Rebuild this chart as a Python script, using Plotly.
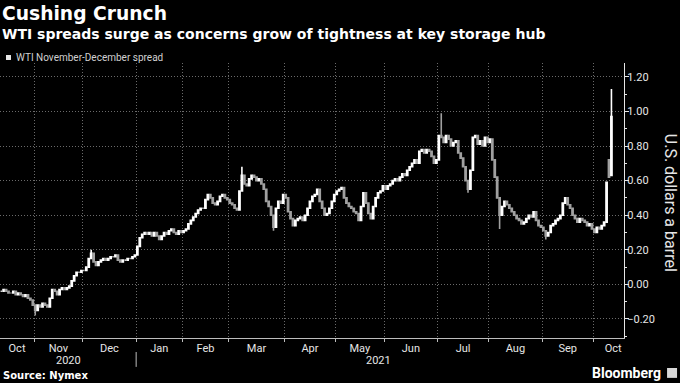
import pandas as pd
import plotly.graph_objects as go

# ---------------- data ----------------
HOLIDAYS = ["2020-11-26", "2020-12-25", "2021-01-01", "2021-01-18", "2021-02-15",
            "2021-04-02", "2021-05-31", "2021-07-05", "2021-09-06"]
FIRST_DAY = "2020-10-13"
LAST_DAY = "2021-10-12"

CLOSE_2020_10 = [-0.04, -0.03, -0.04, -0.05, -0.05, -0.04, -0.06, -0.05, -0.06, -0.07,
                 -0.06, -0.08, -0.09, -0.12]
CLOSE_2020_11 = [-0.15, -0.12, -0.13, -0.11, -0.12, -0.13, -0.08, -0.03, -0.04, -0.06,
                 -0.03, -0.02, -0.03, -0.02, -0.01, 0.02, 0.05, 0.07, 0.07, 0.08]
CLOSE_2020_12 = [0.08, 0.10, 0.15, 0.18, 0.13, 0.11, 0.13, 0.14, 0.15, 0.14,
                 0.15, 0.16, 0.16, 0.17, 0.14, 0.13, 0.14, 0.14, 0.15, 0.15, 0.16, 0.17]
CLOSE_2021_01 = [0.22, 0.27, 0.29, 0.30, 0.29, 0.30, 0.28, 0.30, 0.28, 0.26,
                 0.28, 0.30, 0.29, 0.31, 0.32, 0.30, 0.29, 0.31, 0.30]
CLOSE_2021_02 = [0.31, 0.32, 0.35, 0.37, 0.39, 0.41, 0.43, 0.44, 0.44, 0.49,
                 0.52, 0.50, 0.47, 0.46, 0.48, 0.51, 0.52, 0.50, 0.49]
CLOSE_2021_03 = [0.47, 0.46, 0.44, 0.43, 0.54, 0.63, 0.58, 0.57, 0.61, 0.63,
                 0.62, 0.60, 0.61, 0.58, 0.55, 0.48, 0.45, 0.40, 0.33, 0.44, 0.48, 0.47, 0.52]
CLOSE_2021_04 = [0.50, 0.42, 0.38, 0.34, 0.37, 0.38, 0.39, 0.37, 0.40, 0.44,
                 0.48, 0.51, 0.52, 0.55, 0.48, 0.44, 0.40, 0.41, 0.44, 0.48, 0.52]
CLOSE_2021_05 = [0.54, 0.55, 0.56, 0.50, 0.47, 0.45, 0.44, 0.42, 0.41, 0.37,
                 0.45, 0.53, 0.47, 0.41, 0.38, 0.45, 0.50, 0.53, 0.54, 0.57]
CLOSE_2021_06 = [0.55, 0.57, 0.58, 0.60, 0.61, 0.60, 0.62, 0.64, 0.63, 0.66,
                 0.68, 0.70, 0.72, 0.70, 0.77, 0.78, 0.76, 0.78, 0.77, 0.74, 0.70, 0.72]
CLOSE_2021_07 = [0.86, 0.85, 0.82, 0.86, 0.84, 0.80, 0.82, 0.83, 0.76, 0.73,
                 0.68, 0.60, 0.55, 0.66, 0.85, 0.86, 0.81, 0.83, 0.80, 0.85, 0.82]
CLOSE_2021_08 = [0.84, 0.72, 0.62, 0.50, 0.40, 0.45, 0.48, 0.46, 0.44, 0.42,
                 0.40, 0.38, 0.37, 0.35, 0.36, 0.38, 0.40, 0.39, 0.42, 0.37, 0.34, 0.33]
CLOSE_2021_09 = [0.31, 0.28, 0.30, 0.34, 0.35, 0.37, 0.38, 0.40, 0.47, 0.50,
                 0.46, 0.44, 0.40, 0.38, 0.36, 0.38, 0.37, 0.36, 0.34, 0.35, 0.32]
CLOSE_2021_10 = [0.30, 0.33, 0.32, 0.34, 0.36, 0.59, 0.62, 0.97]

FIRST_OPEN = -0.04
OPEN_OVERRIDE = {"2021-10-11": 0.72, "2021-10-12": 0.63}
HIGH_EXTREMES = {"2020-12-04": 0.20, "2021-03-08": 0.68, "2021-07-02": 0.99, "2021-10-12": 1.13}
LOW_EXTREMES = {"2020-11-02": -0.18, "2021-03-25": 0.31, "2021-07-20": 0.53,
                "2021-08-06": 0.32, "2021-09-02": 0.26}

MONTH_TICK_DATES = ["2020-10-22", "2020-11-16", "2020-12-16", "2021-01-15 12:00",
                    "2021-02-12 12:00", "2021-03-16 12:00", "2021-04-16 12:00",
                    "2021-05-17", "2021-06-16", "2021-07-16 12:00", "2021-08-17",
                    "2021-09-16 12:00", "2021-10-13 06:00"]
MONTH_TICK_TEXT = ["Oct", "Nov", "Dec", "Jan", "Feb", "Mar", "Apr", "May", "Jun",
                   "Jul", "Aug", "Sep", "Oct"]
YEAR_LABEL_DATES = ["2020-11-20", "2021-05-26 12:00"]
YEAR_LABEL_TEXT = ["2020", "2021"]
Y_TICKS = [-0.2, 0.0, 0.2, 0.4, 0.6, 0.8, 1.0, 1.2]
X_RANGE = ["2020-10-13", "2021-10-19 16:00"]
Y_RANGE = [-0.31, 1.28]

# ---------------- build OHLC ----------------
days = pd.bdate_range(FIRST_DAY, LAST_DAY, freq="C", holidays=HOLIDAYS)
close = (CLOSE_2020_10 + CLOSE_2020_11 + CLOSE_2020_12 + CLOSE_2021_01 + CLOSE_2021_02 +
         CLOSE_2021_03 + CLOSE_2021_04 + CLOSE_2021_05 + CLOSE_2021_06 + CLOSE_2021_07 +
         CLOSE_2021_08 + CLOSE_2021_09 + CLOSE_2021_10)
assert len(close) == len(days), (len(close), len(days))
keys = [d.strftime("%Y-%m-%d") for d in days]
opens = [FIRST_OPEN] + close[:-1]
opens = [OPEN_OVERRIDE.get(k, o) for k, o in zip(keys, opens)]
highs = [HIGH_EXTREMES.get(k, max(o, c)) for k, o, c in zip(keys, opens, close)]
lows = [LOW_EXTREMES.get(k, min(o, c)) for k, o, c in zip(keys, opens, close)]
xs = days + pd.Timedelta(hours=12)

# first trading day of each month (month boundaries)
ser = pd.Series(days, index=days)
month_starts = [g.iloc[0] for _, g in ser.groupby([days.year, days.month])][1:]
month_starts = sorted(set(month_starts + [pd.Timestamp("2021-10-01")]))

fig = go.Figure()
fig.add_trace(go.Candlestick(
    x=xs, open=opens, high=highs, low=lows, close=close,
    increasing=dict(line=dict(color="#ffffff", width=1.6), fillcolor="#ffffff"),
    decreasing=dict(line=dict(color="#a0a0a0", width=1.6), fillcolor="#a0a0a0"),
    whiskerwidth=0, showlegend=False, hoverinfo="skip"))

GRID = "#6a6a6a"
TICKFONT = dict(family="Roboto, sans-serif", size=11, color="#e6e6e6")

fig.update_layout(
    width=680, height=383,
    margin=dict(l=0, r=56, t=63, b=45),
    paper_bgcolor="#000000", plot_bgcolor="#000000",
    showlegend=False,
    xaxis=dict(
        type="date", range=X_RANGE, rangeslider=dict(visible=False),
        rangebreaks=[dict(bounds=["sat", "mon"]), dict(values=HOLIDAYS)],
        tickmode="array", tickvals=MONTH_TICK_DATES, ticktext=MONTH_TICK_TEXT,
        ticks="", showgrid=False, zeroline=False,
        showline=True, linecolor="#bdbdbd", linewidth=1,
        tickfont=TICKFONT, automargin=False,
        minor=dict(tickmode="array", tickvals=month_starts, ticks="outside", ticklen=3,
                   tickcolor="#bdbdbd", showgrid=True, gridcolor=GRID, gridwidth=1,
                   griddash="1px,2px"),
    ),
    yaxis=dict(
        side="right", range=Y_RANGE, tickmode="array", tickvals=Y_TICKS,
        tickformat=".2f", ticks="outside", ticklen=4, tickcolor="#e6e6e6",
        ticklabelstandoff=-4,
        showgrid=True, gridcolor=GRID, gridwidth=1, griddash="1px,2px",
        zeroline=False, showline=True, linecolor="#e6e6e6", linewidth=1,
        tickfont=TICKFONT, automargin=False,
        minor=dict(dtick=0.1, tick0=0, ticks="outside", ticklen=2, tickcolor="#e6e6e6",
                   showgrid=False),
    ),
)

annotations = [
    dict(text="Cushing Crunch", x=0.0, y=1.18, xref="paper", yref="paper",
         xanchor="left", yanchor="middle", showarrow=False,
         font=dict(family="DejaVu Sans", size=18.7, weight="bold", color="#ffffff")),
    dict(text="WTI spreads surge as concerns grow of tightness at key storage hub",
         x=0.0, y=1.104, xref="paper", yref="paper", xanchor="left", yanchor="middle",
         showarrow=False,
         font=dict(family="DejaVu Sans", size=14, weight="bold", color="#ffffff")),
    dict(text="WTI November-December spread", x=0.022, y=1.021, xref="paper", yref="paper",
         xanchor="left", yanchor="middle", showarrow=False,
         font=dict(family="Roboto", size=10, color="#d0d0d0")),
    dict(text="Source: Nymex", x=0.002, y=-0.136, xref="paper", yref="paper",
         xanchor="left", yanchor="middle", showarrow=False,
         font=dict(family="DejaVu Sans", size=10, weight="bold", color="#ffffff")),
    dict(text="Bloomberg", x=1.063, y=-0.127, xref="paper", yref="paper",
         xanchor="right", yanchor="middle", showarrow=False,
         font=dict(family="Roboto", size=14, weight="bold", color="#ffffff")),
    dict(text="U.S. dollars a barrel", x=1.074, y=0.491, xref="paper", yref="paper",
         xanchor="center", yanchor="middle", textangle=90, showarrow=False,
         font=dict(family="Roboto", size=16, color="#e6e6e6")),
]
for d, t in zip(YEAR_LABEL_DATES, YEAR_LABEL_TEXT):
    annotations.append(dict(text=t, x=d, y=-0.082, xref="x", yref="paper",
                            xanchor="center", yanchor="middle", showarrow=False,
                            font=TICKFONT))
fig.update_layout(annotations=annotations)

shapes = [
    # legend swatch
    dict(type="rect", xref="paper", yref="paper", x0=0.0096, x1=0.0176, y0=1.011, y1=1.029,
         fillcolor="#e6e6e6", line=dict(width=0)),
    # year separator
    dict(type="line", xref="x", yref="paper", x0="2021-01-04", x1="2021-01-04",
         y0=-0.051, y1=-0.105, line=dict(color="#bdbdbd", width=1)),
    # Bloomberg icon
    dict(type="rect", xref="paper", yref="paper", x0=1.069, x1=1.085, y0=-0.145, y1=-0.109,
         fillcolor="#d8d8d8", line=dict(width=0)),
]
fig.update_layout(shapes=shapes)

fig.write_html("out.html", config={"displayModeBar": False},
               post_script="document.body.style.margin='0';document.body.style.overflow='hidden';")
